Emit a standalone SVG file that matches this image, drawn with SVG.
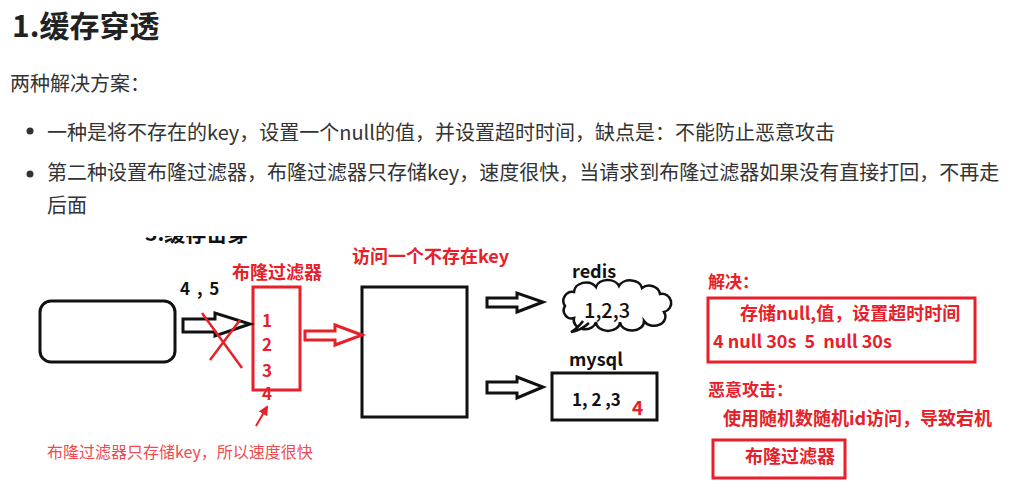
<svg xmlns="http://www.w3.org/2000/svg" width="1022" height="496" viewBox="0 0 1022 496">
<defs>
<style>
.t{font-family:"Noto Sans CJK SC","Noto Sans",sans-serif;}
.body{font-size:20px;fill:#333;}
.b{font-weight:bold;}
.red{fill:#e8202a;}
.blk{fill:#111;}
.rbox{fill:none;stroke:#e8202a;stroke-width:3;}
.kbox{fill:none;stroke:#111;stroke-width:3;}
.harrow{fill:#fff;stroke:#111;stroke-width:3;stroke-linejoin:miter;}
.rarrow{fill:#fff;stroke:#e8202a;stroke-width:3;}
.xl{stroke:#e8202a;stroke-width:2.5;}
</style>
<marker id="rhead" viewBox="0 0 10 10" refX="8" refY="5" markerWidth="5" markerHeight="5" orient="auto">
<path d="M0,0 L10,5 L0,10 Z" fill="#e8202a"/>
</marker>
<clipPath id="cut"><rect x="100" y="236" width="200" height="14"/></clipPath>
</defs>
<rect width="1022" height="496" fill="#fff"/>

<g id="article">
<text class="t b" x="12" y="37" font-size="30" fill="#222">1.缓存穿透</text>
<text class="t body" x="10" y="91">两种解决方案：</text>
<circle cx="30" cy="131" r="3.5" fill="#333"/>
<text class="t body" x="47" y="140">一种是将不存在的key，设置一个null的值，并设置超时时间，缺点是：不能防止恶意攻击</text>
<circle cx="30" cy="174" r="3.5" fill="#333"/>
<text class="t body" x="47" y="180">第二种设置布隆过滤器，布隆过滤器只存储key，速度很快，当请求到布隆过滤器如果没有直接打回，不再走</text>
<text class="t body" x="47" y="213">后面</text>
</g>

<g id="cut-title" clip-path="url(#cut)">
<text class="t b blk" x="145" y="241" font-size="21">3.缓存击穿</text>
</g>

<g id="client">
<rect x="40" y="301" width="135" height="61" rx="11" class="kbox"/>
</g>

<g id="bloom-filter">
<text class="t b red" x="232" y="279" font-size="18">布隆过滤器</text>
<rect x="253" y="287" width="47" height="103" class="rbox"/>
<text class="t b red" x="262" y="327" font-size="17">1</text>
<text class="t b red" x="262" y="351" font-size="17">2</text>
<text class="t b red" x="262" y="377" font-size="17">3</text>
<text class="t b red" x="262" y="400" font-size="17">4</text>
<text class="t" x="47" y="458" font-size="16" fill="#f04a50">布隆过滤器只存储key，所以速度很快</text>
</g>

<g id="server">
<text class="t b red" x="352" y="263" font-size="18">访问一个不存在key</text>
<rect x="362" y="287" width="105" height="130" class="kbox"/>
</g>

<g id="redis">
<text class="t b blk" x="572" y="278" font-size="18">redis</text>
<path d="M565,306 A9,9 0 0 1 574,292 A12,10 0 0 1 596,287 A12,9 0 0 1 619,286 A12,9 0 0 1 642,288 A11,10 0 0 1 660,294 A9,9 0 0 1 664,312 A11,9 0 0 1 644,321 A12,9 0 0 1 620,322 A12,9 0 0 1 596,322 A11,9 0 0 1 574,318 A8,8 0 0 1 565,306 Z" fill="#fff" stroke="#111" stroke-width="2.5"/>
<path d="M583,321 Q578,328 571,332 Q580,331 589,323" fill="#fff" stroke="#111" stroke-width="2.5"/>
<text class="t blk" x="584" y="318" font-size="20" font-weight="500">1,2,3</text>
</g>

<g id="mysql">
<text class="t b blk" x="569" y="366" font-size="18">mysql</text>
<rect x="552" y="373" width="105" height="47" class="kbox"/>
<text class="t b blk" x="572" y="406" font-size="17">1, 2 ,3</text>
<text class="t b red" x="632" y="415" font-size="19">4</text>
</g>

<g id="solution">
<text class="t b red" x="708" y="288" font-size="17">解决：</text>
<rect x="708" y="298" width="267" height="64" class="rbox"/>
<text class="t b red" x="740" y="320" font-size="18">存储null,值，设置超时时间</text>
<text class="t b red" x="713" y="348" font-size="18" xml:space="preserve">4 null 30s  5  null 30s</text>
</g>

<g id="attack">
<text class="t b red" x="708" y="396" font-size="17">恶意攻击：</text>
<text class="t b red" x="723" y="425" font-size="18">使用随机数随机id访问，导致宕机</text>
<rect x="713" y="440" width="132" height="38" class="rbox"/>
<text class="t b red" x="745" y="463" font-size="18">布隆过滤器</text>
</g>

<g id="connectors">
<text class="t b blk" x="180" y="295" font-size="17" letter-spacing="1.5" xml:space="preserve">4 , 5</text>
<path d="M183,319 L215,319 L215,313 L250,324 L215,336 L215,332 L183,332 Z" class="harrow"/>
<line x1="202" y1="313" x2="242" y2="368" class="xl"/>
<line x1="210" y1="360" x2="240" y2="320" class="xl"/>
<path d="M305,331 L335,331 L335,325 L362,335 L335,345 L335,340 L305,340 Z" class="rarrow"/>
<path d="M487,298 L517,298 L517,293 L543,302 L517,312 L517,307 L487,307 Z" class="harrow"/>
<path d="M487,382 L517,382 L517,377 L543,387 L517,398 L517,393 L487,393 Z" class="harrow"/>
<line x1="256" y1="426" x2="267" y2="407" stroke="#e8202a" stroke-width="2" marker-end="url(#rhead)"/>
</g>
</svg>
